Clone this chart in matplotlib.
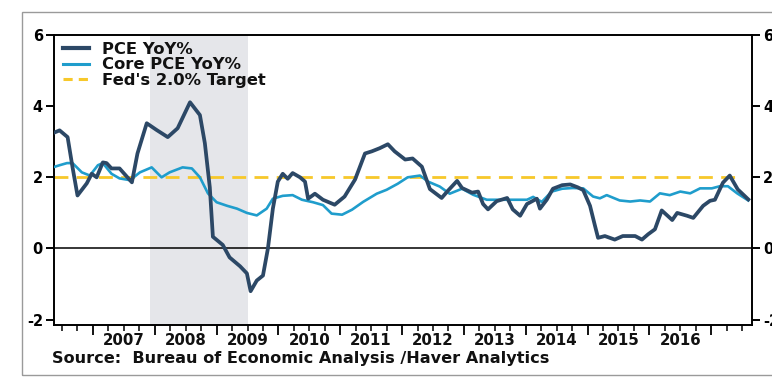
import matplotlib
matplotlib.use("Agg")
import matplotlib.pyplot as plt
from matplotlib.transforms import blended_transform_factory
from matplotlib.patches import Rectangle
from matplotlib.lines import Line2D

plt.rcParams['font.family'] = ['DejaVu Sans']

# Headline PCE inflation, year-over-year %, by decimal year
pce_t = [2006.35, 2006.46, 2006.59, 2006.67, 2006.75, 2006.90, 2006.98, 2007.06,
         2007.16, 2007.22, 2007.30, 2007.43, 2007.63, 2007.72, 2007.87, 2008.03,
         2008.21, 2008.37, 2008.57, 2008.73, 2008.81, 2008.89, 2008.94, 2009.10,
         2009.21, 2009.38, 2009.49, 2009.55, 2009.65, 2009.75, 2009.83, 2009.91,
         2009.99, 2010.07, 2010.15, 2010.23, 2010.35, 2010.43, 2010.48, 2010.59,
         2010.72, 2010.91, 2011.07, 2011.24, 2011.40, 2011.51, 2011.64, 2011.77,
         2011.88, 2012.05, 2012.17, 2012.32, 2012.45, 2012.64, 2012.74, 2012.89,
         2012.97, 2013.13, 2013.23, 2013.31, 2013.39, 2013.53, 2013.70, 2013.79,
         2013.91, 2014.02, 2014.18, 2014.23, 2014.34, 2014.44, 2014.59, 2014.72,
         2014.84, 2014.93, 2015.04, 2015.12, 2015.17, 2015.28, 2015.44, 2015.57,
         2015.77, 2015.88, 2015.98, 2016.09, 2016.20, 2016.37, 2016.45, 2016.61,
         2016.71, 2016.87, 2016.98, 2017.06, 2017.19, 2017.30, 2017.43, 2017.60]
pce_v = [3.24, 3.32, 3.13, 2.28, 1.49, 1.83, 2.10, 2.00,
         2.42, 2.40, 2.25, 2.25, 1.86, 2.67, 3.52, 3.33,
         3.13, 3.38, 4.11, 3.75, 2.96, 1.72, 0.33, 0.10,
         -0.25, -0.50, -0.70, -1.20, -0.90, -0.76, 0.00, 1.12,
         1.88, 2.10, 1.96, 2.12, 2.00, 1.88, 1.40, 1.54,
         1.37, 1.23, 1.46, 1.94, 2.67, 2.73, 2.82, 2.93,
         2.73, 2.50, 2.53, 2.30, 1.67, 1.42, 1.62, 1.90,
         1.70, 1.57, 1.60, 1.25, 1.10, 1.33, 1.42, 1.10,
         0.92, 1.25, 1.40, 1.12, 1.37, 1.68, 1.78, 1.80,
         1.72, 1.64, 1.20, 0.64, 0.30, 0.35, 0.25, 0.35,
         0.35, 0.25, 0.40, 0.54, 1.07, 0.80, 1.00, 0.92,
         0.86, 1.20, 1.34, 1.37, 1.85, 2.05, 1.66, 1.38]

# Core PCE inflation, year-over-year %
core_t = [2006.35, 2006.46, 2006.58, 2006.67, 2006.82, 2006.95, 2007.08, 2007.16,
          2007.30, 2007.43, 2007.60, 2007.76, 2007.95, 2008.11, 2008.24, 2008.45,
          2008.60, 2008.73, 2008.86, 2009.00, 2009.17, 2009.33, 2009.49, 2009.65,
          2009.81, 2009.91, 2010.07, 2010.23, 2010.38, 2010.56, 2010.72, 2010.86,
          2011.03, 2011.19, 2011.37, 2011.59, 2011.75, 2011.93, 2012.09, 2012.29,
          2012.42, 2012.61, 2012.77, 2012.97, 2013.15, 2013.37, 2013.58, 2013.79,
          2014.02, 2014.12, 2014.26, 2014.42, 2014.59, 2014.76, 2014.93, 2015.09,
          2015.20, 2015.31, 2015.52, 2015.69, 2015.85, 2016.01, 2016.17, 2016.33,
          2016.50, 2016.66, 2016.82, 2017.01, 2017.14, 2017.27, 2017.42, 2017.60]
core_v = [2.28, 2.34, 2.40, 2.40, 2.14, 2.05, 2.34, 2.40,
          2.10, 1.97, 1.92, 2.14, 2.28, 2.00, 2.14, 2.28,
          2.25, 2.00, 1.55, 1.30, 1.20, 1.12, 1.00, 0.93,
          1.12, 1.40, 1.48, 1.50, 1.37, 1.30, 1.22, 0.98,
          0.95, 1.09, 1.31, 1.54, 1.65, 1.82, 2.00, 2.05,
          1.88, 1.74, 1.54, 1.68, 1.51, 1.37, 1.37, 1.37,
          1.37, 1.45, 1.31, 1.60, 1.68, 1.70, 1.69, 1.46,
          1.41, 1.50, 1.35, 1.32, 1.35, 1.32, 1.55, 1.50,
          1.60, 1.55, 1.69, 1.69, 1.75, 1.75, 1.55, 1.35]

# Fed target and its span
target_t = [2006.37, 2017.45]
target_v = [2.0, 2.0]

# Recession (Dec 2007 - Jun 2009)
recession = (2007.92, 2009.50)

years = list(range(2007, 2017))
y_ticks = [-2, 0, 2, 4, 6]

PCE_COLOR = "#2c4866"
CORE_COLOR = "#1f9dcc"
TARGET_COLOR = "#f7c82a"

fig = plt.figure(figsize=(7.72, 3.83), dpi=100)
ax = fig.add_axes([54 / 772, 1 - 325 / 383, 698 / 772, 290 / 383])

ax.set_xlim(2006.37, 2017.66)
ax.set_ylim(-2.15, 6.0)

ax.axvspan(*recession, color="#e5e6ea", lw=0, zorder=0)
ax.axhline(0, color="black", lw=1.1, zorder=1)

ax.plot(target_t, target_v, color=TARGET_COLOR, lw=2.0, ls=(0, (5, 3)),
        zorder=2, label="Fed's 2.0% Target")
ax.plot(core_t, core_v, color=CORE_COLOR, lw=1.9, zorder=3,
        label="Core PCE YoY%")
ax.plot(pce_t, pce_v, color=PCE_COLOR, lw=2.7, zorder=4,
        solid_joinstyle="round", label="PCE YoY%")

for s in ax.spines.values():
    s.set_color("black")
    s.set_linewidth(1.4)

# y axis: ticks and labels on both sides
ax.set_yticks(y_ticks)
ax.set_yticklabels([str(v) for v in y_ticks])
ax.tick_params(axis="y", which="both", direction="out", length=6, width=1.4,
               left=True, right=True, labelleft=True, labelright=True,
               labelsize=10.5, pad=2)
for lab in ax.get_yticklabels():
    lab.set_fontweight("bold")

# x axis: long ticks at year starts, short ticks each quarter
year_starts = [y for y in range(2007, 2018)]
quarters = [y + q / 4 for y in range(2006, 2018) for q in range(4)
            if 2006.37 <= y + q / 4 <= 2017.66]
ax.set_xticks(year_starts)
ax.set_xticklabels([])
ax.set_xticks(quarters, minor=True)
ax.tick_params(axis="x", which="major", direction="out", length=7, width=1.3)
ax.tick_params(axis="x", which="minor", direction="out", length=4, width=1.1)

trans = blended_transform_factory(ax.transData, ax.transAxes)
for y in years:
    ax.text(y + 0.5, -0.055, str(y), transform=trans, ha="center", va="center",
            fontsize=10.8, fontweight="bold", color="#111111")

fig.text(52 / 772, 1 - 358 / 383,
         "Source:  Bureau of Economic Analysis /Haver Analytics",
         ha="left", va="center", fontsize=11.6, fontweight="bold",
         color="#111111")

handles = [Line2D([], [], color=PCE_COLOR, lw=3.0),
           Line2D([], [], color=CORE_COLOR, lw=2.2),
           Line2D([], [], color=TARGET_COLOR, lw=2.2, ls=(0, (3, 2)))]
labels = ["PCE YoY%", "Core PCE YoY%", "Fed's 2.0% Target"]
leg = ax.legend(handles, labels, loc="upper left",
                bbox_to_anchor=(9 / 698, 1 - 7 / 290), frameon=False,
                borderpad=0, borderaxespad=0, handlelength=1.6,
                handletextpad=0.75, labelspacing=0.02,
                prop={"size": 11.8, "weight": "bold"})
for t in leg.get_texts():
    t.set_color("#111111")

# outer frame around the exhibit
fig.patches.append(Rectangle((22 / 772, 1 - 375 / 383), 760 / 772, 363 / 383,
                             transform=fig.transFigure, fill=False,
                             edgecolor="#9a9a9a", lw=1.0))

fig.savefig("out.png", dpi=100)
